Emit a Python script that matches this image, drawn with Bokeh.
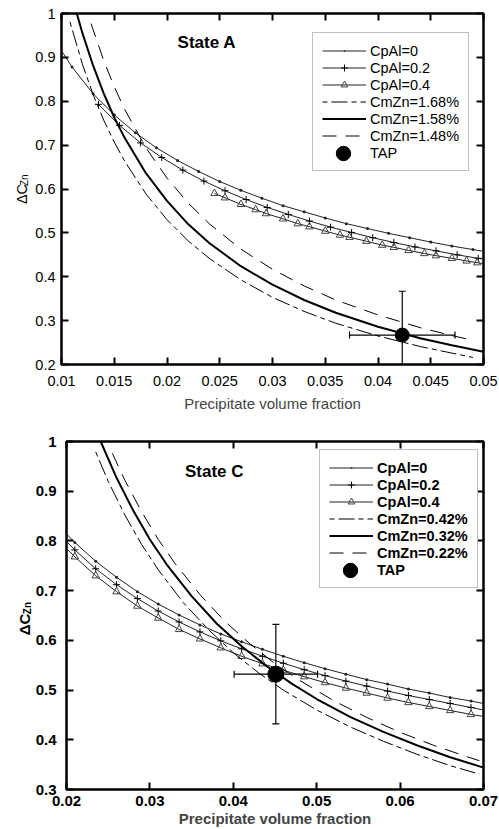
import math
from bokeh.plotting import figure
from bokeh.models import LinearAxis, FixedTicker, Range1d, Label, Legend, LegendItem
from bokeh.layouts import column, row
from bokeh.embed import file_html
from bokeh.resources import INLINE

FONT = "Liberation Sans"

# ---------------- State A ----------------
a_x_ticks = [0.01, 0.015, 0.02, 0.025, 0.03, 0.035, 0.04, 0.045, 0.05]
a_x_labels = ["0.01", "0.015", "0.02", "0.025", "0.03", "0.035", "0.04", "0.045", "0.05"]
a_y_ticks = [0.2, 0.3, 0.4, 0.5, 0.6, 0.7, 0.8, 0.9, 1.0]
a_y_labels = ["0.2", "0.3", "0.4", "0.5", "0.6", "0.7", "0.8", "0.9", "1"]

a_cp0_x = [0.010, 0.011, 0.013, 0.015, 0.017, 0.019, 0.021, 0.023, 0.025, 0.027, 0.029,
           0.031, 0.033, 0.035, 0.037, 0.039, 0.041, 0.043, 0.045, 0.047, 0.049, 0.050]
a_cp0_y = [0.915, 0.878, 0.817, 0.769, 0.728, 0.694, 0.665, 0.640, 0.617, 0.597, 0.579,
           0.562, 0.548, 0.534, 0.521, 0.510, 0.499, 0.489, 0.479, 0.470, 0.462, 0.458]
a_cp2_x = [0.0135, 0.0155, 0.0175, 0.0195, 0.0215, 0.0235, 0.0255, 0.0275, 0.0295, 0.0315,
           0.0335, 0.0355, 0.0375, 0.0395, 0.0415, 0.0435, 0.0455, 0.0475, 0.0495, 0.0500]
a_cp2_y = [0.793, 0.745, 0.705, 0.672, 0.643, 0.618, 0.596, 0.576, 0.558, 0.542,
           0.527, 0.513, 0.501, 0.489, 0.478, 0.468, 0.459, 0.450, 0.442, 0.440]
a_cp4_x = [0.0245, 0.0255, 0.0270, 0.0284, 0.0294, 0.0310, 0.0324, 0.0335, 0.0350, 0.0364,
           0.0373, 0.0389, 0.0404, 0.0415, 0.0429, 0.0444, 0.0455, 0.0470, 0.0484, 0.0494, 0.0500]
a_cp4_y = [0.590, 0.580, 0.565, 0.553, 0.544, 0.532, 0.521, 0.514, 0.504, 0.495,
           0.490, 0.481, 0.472, 0.467, 0.460, 0.453, 0.448, 0.442, 0.436, 0.432, 0.430]
a_hi_x = [0.0108, 0.012, 0.013, 0.014, 0.015, 0.016, 0.018, 0.020, 0.022, 0.024, 0.027,
          0.030, 0.033, 0.036, 0.040, 0.044, 0.047, 0.049]
a_hi_y = [0.981, 0.883, 0.815, 0.757, 0.707, 0.663, 0.589, 0.530, 0.482, 0.442, 0.393,
          0.353, 0.321, 0.294, 0.265, 0.241, 0.226, 0.216]
a_mid_x = [0.01145, 0.012, 0.013, 0.014, 0.015, 0.016, 0.018, 0.020, 0.022, 0.024, 0.027,
           0.030, 0.033, 0.036, 0.040, 0.044, 0.047, 0.050]
a_mid_y = [1.0, 0.954, 0.881, 0.818, 0.763, 0.716, 0.636, 0.573, 0.520, 0.477, 0.424,
           0.382, 0.347, 0.318, 0.286, 0.260, 0.244, 0.229]
a_lo_x = [0.0128, 0.014, 0.015, 0.016, 0.018, 0.020, 0.022, 0.024, 0.027, 0.030, 0.033,
          0.036, 0.040, 0.044, 0.047, 0.049]
a_lo_y = [0.977, 0.893, 0.833, 0.781, 0.694, 0.625, 0.568, 0.521, 0.463, 0.417, 0.379,
          0.347, 0.313, 0.284, 0.266, 0.255]
a_tap = [0.0423, 0.267, 0.005, 0.1]   # x, y, x-error, y-error
a_legend = ["CpAl=0", "CpAl=0.2", "CpAl=0.4", "CmZn=1.68%", "CmZn=1.58%", "CmZn=1.48%", "TAP"]

# ---------------- State C ----------------
c_x_ticks = [0.02, 0.03, 0.04, 0.05, 0.06, 0.07]
c_x_labels = ["0.02", "0.03", "0.04", "0.05", "0.06", "0.07"]
c_y_ticks = [0.3, 0.4, 0.5, 0.6, 0.7, 0.8, 0.9, 1.0]
c_y_labels = ["0.3", "0.4", "0.5", "0.6", "0.7", "0.8", "0.9", "1"]

c_cp_x = [0.020, 0.021, 0.0235, 0.026, 0.0285, 0.031, 0.0335, 0.036, 0.0385, 0.041, 0.0435,
          0.046, 0.0485, 0.051, 0.0535, 0.056, 0.0585, 0.061, 0.0635, 0.066, 0.0685, 0.070]
c_cp0_y = [0.814, 0.797, 0.759, 0.727, 0.698, 0.673, 0.651, 0.631, 0.613, 0.597, 0.582,
           0.568, 0.555, 0.543, 0.532, 0.521, 0.512, 0.502, 0.494, 0.485, 0.478, 0.473]
c_cp2_y = [0.799, 0.782, 0.744, 0.712, 0.684, 0.659, 0.637, 0.617, 0.599, 0.583, 0.568,
           0.554, 0.541, 0.529, 0.518, 0.508, 0.498, 0.489, 0.481, 0.473, 0.465, 0.460]
c_cp4_y = [0.785, 0.768, 0.730, 0.698, 0.669, 0.645, 0.622, 0.603, 0.585, 0.568, 0.553,
           0.540, 0.527, 0.515, 0.504, 0.494, 0.484, 0.475, 0.467, 0.459, 0.451, 0.447]
c_hi_x = [0.0235, 0.025, 0.027, 0.029, 0.031, 0.034, 0.037, 0.040, 0.043, 0.046, 0.050,
          0.054, 0.058, 0.062, 0.066, 0.0695]
c_hi_y = [0.979, 0.920, 0.852, 0.793, 0.742, 0.676, 0.622, 0.575, 0.535, 0.500, 0.460,
          0.426, 0.397, 0.371, 0.348, 0.331]
c_mid_x = [0.0241, 0.026, 0.028, 0.030, 0.032, 0.035, 0.038, 0.041, 0.044, 0.047, 0.050,
           0.054, 0.058, 0.062, 0.066, 0.070]
c_mid_y = [1.0, 0.927, 0.861, 0.803, 0.753, 0.689, 0.634, 0.588, 0.548, 0.513, 0.482,
           0.446, 0.416, 0.389, 0.365, 0.344]
c_lo_x = [0.0255, 0.027, 0.029, 0.031, 0.033, 0.036, 0.039, 0.042, 0.045, 0.048, 0.052,
          0.056, 0.060, 0.064, 0.068, 0.0695]
c_lo_y = [0.976, 0.922, 0.859, 0.803, 0.755, 0.692, 0.638, 0.593, 0.553, 0.519, 0.479,
          0.445, 0.415, 0.389, 0.366, 0.358]
c_tap = [0.0451, 0.532, 0.005, 0.1]
c_legend = ["CpAl=0", "CpAl=0.2", "CpAl=0.4", "CmZn=0.42%", "CmZn=0.32%", "CmZn=0.22%", "TAP"]

LABEL_W = 32   # width of the narrow strip that carries the y-axis title


def style_axis(ax, ticks, labels, show, bold, standoff):
    ax.ticker = FixedTicker(ticks=ticks)
    ax.major_tick_in = 7
    ax.major_tick_out = 0
    ax.major_tick_line_width = 2
    ax.major_tick_line_color = "black"
    ax.minor_tick_line_color = None
    ax.axis_line_color = None
    if show:
        ax.major_label_overrides = {t: l for t, l in zip(ticks, labels)}
        ax.major_label_text_font = FONT
        ax.major_label_text_font_size = "14.5px" if not bold else "15px"
        ax.major_label_text_font_style = "bold" if bold else "normal"
        ax.major_label_text_color = "black"
        ax.major_label_standoff = standoff
    else:
        ax.major_label_overrides = {t: "" for t in ticks}
        ax.major_label_text_font_size = "1px"
        ax.major_label_standoff = 0


def build(cfg):
    bold = cfg["bold"]
    fstyle = "bold" if bold else "normal"
    yr_ = Range1d(cfg["yt"][0], cfg["yt"][-1])
    p = figure(width=499 - LABEL_W, height=cfg["height"],
               x_range=Range1d(cfg["xt"][0], cfg["xt"][-1]), y_range=yr_,
               output_backend="svg", toolbar_location=None,
               min_border_left=cfg["bl"] - LABEL_W, min_border_right=16,
               min_border_top=cfg["bt"], min_border_bottom=cfg["bb"])
    p.grid.visible = False
    p.outline_line_color = "black"
    p.outline_line_width = 2.5
    p.background_fill_color = "white"
    p.border_fill_color = "white"

    p.add_layout(LinearAxis(), "above")
    p.add_layout(LinearAxis(), "right")
    xb, xa = p.below[0], p.above[0]
    yl, yr = p.left[0], p.right[0]
    style_axis(xb, cfg["xt"], cfg["xl"], True, bold, cfg["xso"])
    style_axis(xa, cfg["xt"], cfg["xl"], False, bold, 0)
    style_axis(yl, cfg["yt"], cfg["yl"], True, bold, cfg["yso"])
    style_axis(yr, cfg["yt"], cfg["yl"], False, bold, 0)
    xb.axis_label = "Precipitate volume fraction"
    xb.axis_label_text_font = FONT
    xb.axis_label_text_font_size = "15px"
    xb.axis_label_text_font_style = fstyle
    xb.axis_label_standoff = cfg["lso"]

    d = cfg["data"]
    # CpAl curves
    l0 = p.line(d["cp0_x"], d["cp0_y"], line_color="#222222", line_width=1)
    m0 = p.scatter(d["cp0_x"][d["s0"]], d["cp0_y"][d["s0"]], marker="dot", size=12,
                   fill_color="#222222", line_color="#222222")
    l2 = p.line(d["cp2_x"], d["cp2_y"], line_color="#222222", line_width=1)
    m2 = p.scatter(d["cp2_x"][d["s2"]], d["cp2_y"][d["s2"]], marker="cross", size=7,
                   line_color="black", line_width=1)
    l4 = p.line(d["cp4_x"], d["cp4_y"], line_color="#222222", line_width=1)
    m4 = p.scatter(d["cp4_x"][d["s4"]], d["cp4_y"][d["s4"]], marker="triangle", size=7.5,
                   fill_color="white", fill_alpha=0.0, line_color="#444444", line_width=1)
    # CmZn curves
    hi = p.line(d["hi_x"], d["hi_y"], line_color="black", line_width=1, line_dash="5 4 16 4")
    mid = p.line(d["mid_x"], d["mid_y"], line_color="black", line_width=2)
    lo = p.line(d["lo_x"], d["lo_y"], line_color="black", line_width=1, line_dash="14 9")
    # TAP with error bars
    tx, ty, ex, ey = d["tap"]
    p.segment(x0=[tx - ex], y0=[ty], x1=[tx + ex], y1=[ty], line_color="black", line_width=1.2)
    p.segment(x0=[tx], y0=[ty - ey], x1=[tx], y1=[ty + ey], line_color="black", line_width=1.2)
    p.scatter([tx - ex, tx + ex], [ty, ty], marker="dash", angle=math.pi / 2, size=7,
              line_color="black", line_width=1.2)
    p.scatter([tx, tx], [ty - ey, ty + ey], marker="dash", size=7,
              line_color="black", line_width=1.2)
    tap = p.scatter([tx], [ty], marker="circle", size=cfg["tapsize"], fill_color="black",
                    line_color="black")
    ghost = p.scatter([tx], [ty], marker="circle", size=1, fill_alpha=0, line_alpha=0)

    names = cfg["legend"]
    items = [LegendItem(label=names[0], renderers=[l0, m0]),
             LegendItem(label=names[1], renderers=[l2, m2]),
             LegendItem(label=names[2], renderers=[l4, m4]),
             LegendItem(label=names[3], renderers=[hi]),
             LegendItem(label=names[4], renderers=[mid]),
             LegendItem(label=names[5], renderers=[lo]),
             LegendItem(label=names[6], renderers=[ghost])]
    lx, ly = cfg["legloc"]
    leg = Legend(items=items, location=(lx, ly), margin=0, padding=9, spacing=0,
                 glyph_width=44, glyph_height=17, label_height=17, label_standoff=4,
                 label_text_font=FONT, label_text_font_size="14.5px",
                 label_text_font_style=fstyle, label_text_color="black",
                 border_line_color="#808080", border_line_width=1,
                 background_fill_color="white", background_fill_alpha=1.0)
    p.add_layout(leg)
    # larger TAP symbol drawn in the last legend row
    leg2 = Legend(items=[LegendItem(label=" ", renderers=[tap])], location=(lx + 9, ly),
                  margin=0, padding=0, spacing=0, glyph_width=44, glyph_height=36,
                  label_height=36, label_standoff=0, label_text_font_size="1px",
                  border_line_color=None, background_fill_alpha=0.0)
    p.add_layout(leg2)

    # panel title
    p.add_layout(Label(x=cfg["title_xy"][0], y=cfg["title_xy"][1], text=cfg["title"],
                       text_font=FONT, text_font_size="17px", text_font_style="bold",
                       text_align="left", text_baseline="middle", text_color="black"))

    # narrow strip on the left carrying the y-axis title  ΔC with subscript Zn
    s = figure(width=LABEL_W, height=cfg["height"], x_range=Range1d(0, LABEL_W), y_range=yr_,
               output_backend="svg", toolbar_location=None,
               x_axis_location=None, y_axis_location=None,
               min_border_left=0, min_border_right=0,
               min_border_top=cfg["bt"], min_border_bottom=cfg["bb"])
    s.grid.visible = False
    s.outline_line_color = None
    s.border_fill_color = "white"
    s.background_fill_color = "white"
    s.add_layout(Label(x=cfg["ylab"][0], y=cfg["ylab"][1], text="ΔC", angle=math.pi / 2,
                       text_font=FONT, text_font_size="14.5px" if not bold else "15px",
                       text_font_style=fstyle, text_align="center", text_baseline="middle",
                       text_color="black"))
    s.add_layout(Label(x=cfg["ylab"][2], y=cfg["ylab"][3], text="Zn", angle=math.pi / 2,
                       text_font=FONT, text_font_size="10px",
                       text_font_style=fstyle, text_align="center", text_baseline="middle",
                       text_color="black"))
    return row(s, p, spacing=0)


top = build(dict(
    bold=False, height=420, bl=60, bt=13, bb=56, xso=11, yso=6, lso=6, tapsize=14,
    xt=a_x_ticks, xl=a_x_labels, yt=a_y_ticks, yl=a_y_labels,
    legend=a_legend, legloc=(251, 193), title="State A", title_xy=(0.0210, 0.934),
    ylab=(21, 0.5886, 24, 0.620),
    data=dict(cp0_x=a_cp0_x, cp0_y=a_cp0_y, s0=slice(1, -1),
              cp2_x=a_cp2_x, cp2_y=a_cp2_y, s2=slice(0, -1),
              cp4_x=a_cp4_x, cp4_y=a_cp4_y, s4=slice(0, -1),
              hi_x=a_hi_x, hi_y=a_hi_y, mid_x=a_mid_x, mid_y=a_mid_y,
              lo_x=a_lo_x, lo_y=a_lo_y, tap=a_tap)))

bottom = build(dict(
    bold=True, height=409, bl=66, bt=21, bb=38, xso=6, yso=10, lso=1, tapsize=16,
    xt=c_x_ticks, xl=c_x_labels, yt=c_y_ticks, yl=c_y_labels,
    legend=c_legend, legloc=(253, 201), title="State C", title_xy=(0.0342, 0.94),
    ylab=(23.5, 0.632, 27, 0.665),
    data=dict(cp0_x=c_cp_x, cp0_y=c_cp0_y, s0=slice(1, -1),
              cp2_x=c_cp_x, cp2_y=c_cp2_y, s2=slice(1, -1),
              cp4_x=c_cp_x, cp4_y=c_cp4_y, s4=slice(1, -1),
              hi_x=c_hi_x, hi_y=c_hi_y, mid_x=c_mid_x, mid_y=c_mid_y,
              lo_x=c_lo_x, lo_y=c_lo_y, tap=c_tap)))

layout = column(top, bottom, spacing=0)
open("out.html", "w").write(file_html(layout, INLINE))
